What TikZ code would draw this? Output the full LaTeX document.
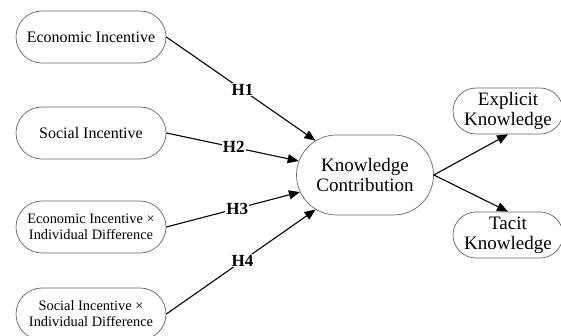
\documentclass[tikz,border=0pt]{standalone}
\usepackage{fontspec}
\setmainfont{Liberation Serif}
\usetikzlibrary{shapes.misc,arrows.meta}
\begin{document}
\begin{tikzpicture}[x=1pt,y=-1pt,
  box/.style={rounded rectangle, draw=black!60, line width=0.7pt, align=center, inner sep=0pt, fill=white},
  leftbox/.style={box, minimum width=150pt, minimum height=52pt},
  rightbox/.style={box, minimum width=110pt, minimum height=46pt, font=\fontsize{19}{20}\selectfont},
  bigtxt/.style={font=\fontsize{16}{18}\selectfont},
  smalltxt/.style={font=\fontsize{14.4}{16}\selectfont},
  conn/.style={draw=black, line width=1.1pt, -{Triangle[length=11pt,width=9pt]}},
  hlab/.style={fill=white, inner sep=1pt, font=\bfseries\fontsize{17}{18}\selectfont}
]
\useasboundingbox (0,0) rectangle (561,336);
\node[leftbox, bigtxt] (ei) at (91,37) {Economic Incentive};
\node[leftbox, bigtxt] (si) at (91,133) {Social Incentive};
\node[leftbox, smalltxt] (eid) at (91,227) {Economic Incentive ×\\Individual Difference};
\node[leftbox, smalltxt] (sid) at (91,314) {Social Incentive ×\\Individual Difference};
\node[box, minimum width=137pt, minimum height=80pt, font=\fontsize{19}{20}\selectfont] (kc) at (365,175) {Knowledge\\Contribution};
\node[rightbox] (ex) at (508,111) {Explicit\\Knowledge};
\node[rightbox] (ta) at (508,235) {Tacit\\Knowledge};
\draw[conn] (ei.east) -- node[hlab, pos=0.51] {H1} (kc);
\draw[conn] (si.east) -- node[hlab, pos=0.51] {H2} (kc);
\draw[conn] (eid.east) -- node[hlab, pos=0.53] {H3} (kc);
\draw[conn] (sid.east) -- node[hlab, pos=0.51] {H4} (kc);
\draw[conn] (kc.east) -- (ex.south);
\draw[conn] (kc.east) -- (ta.north);
\end{tikzpicture}
\end{document}
